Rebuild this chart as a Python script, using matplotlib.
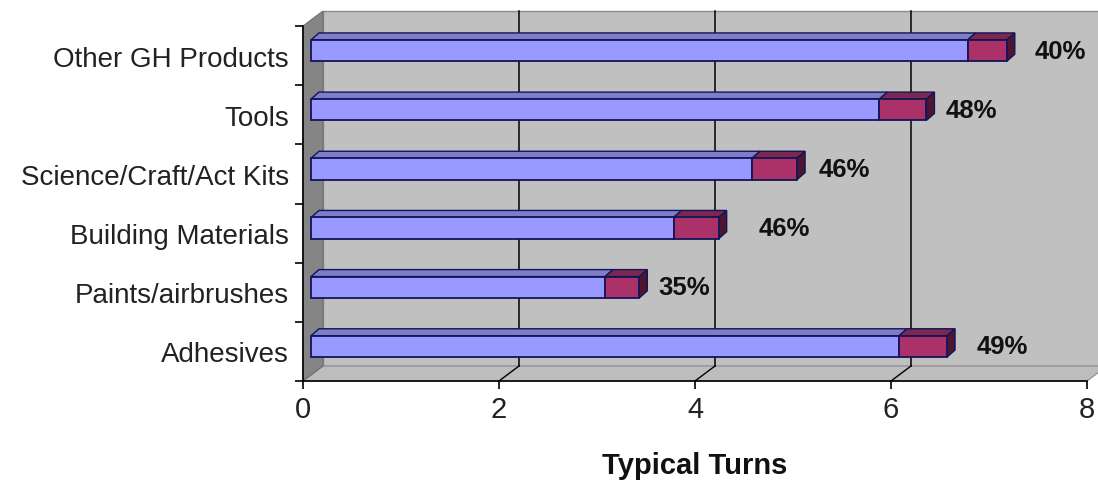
import matplotlib
matplotlib.use("Agg")
import matplotlib.pyplot as plt
from matplotlib.patches import Polygon, Rectangle

# ---- data -------------------------------------------------------------
categories = ["Adhesives", "Paints/airbrushes", "Building Materials",
              "Science/Craft/Act Kits", "Tools", "Other GH Products"]
base_turns = [6.0, 3.0, 3.7, 4.5, 5.8, 6.7]
pct_labels = ["49%", "35%", "46%", "46%", "48%", "40%"]
pct_values = [0.49, 0.35, 0.46, 0.46, 0.48, 0.40]
x_ticks = [0, 2, 4, 6, 8]
x_title = "Typical Turns"

# gap (pixels) between each bar end and its percentage label
label_gap_px = [30, 19, 40, 22, 19, 28]

# ---- style --------------------------------------------------------------
plt.rcParams["font.family"] = ["Liberation Sans", "DejaVu Sans"]
WALL = "#c0c0c0"
FLOOR = "#bdbdbd"
SIDE_WALL = "#858585"
BLUE_FRONT, BLUE_TOP = "#9999ff", "#7d7dc8"
RED_FRONT, RED_TOP, RED_SIDE = "#ab3169", "#7a2850", "#4c1631"
EDGE = "#14145a"

W, H = 1098, 485
fig = plt.figure(figsize=(W / 100, H / 100), dpi=100)
ax = fig.add_axes([303 / W, (H - 382) / H, 784 / W, 355 / H])
ax.set_xlim(0, 8)
ax.set_ylim(-0.5, len(categories) - 0.5)

ypos = list(range(len(categories)))
y0, y1 = -0.5, len(categories) - 0.5


def px(dx, dy):
    """Convert a pixel offset into data units for this axes."""
    inv = ax.transData.inverted()
    a = inv.transform((0, 0))
    b = inv.transform((dx, dy))
    return b[0] - a[0], b[1] - a[1]


wx, wy = px(20, 15)      # depth of the chart box
fx, fy = px(8, 5)        # front face of bars sits inside the box
bx, by = px(8, 7)        # thickness of each bar
bar_h = 0.36


def poly(pts, color, z, **kw):
    ax.add_patch(Polygon(pts, closed=True, facecolor=color, clip_on=False,
                         zorder=z, **kw))


# back wall, floor and left wall
ax.add_patch(Rectangle((wx, y0 + wy), 8, y1 - y0, facecolor=WALL,
                       edgecolor="#8a8a8a", lw=1.0, clip_on=False, zorder=0))
poly([(0, y0), (8, y0), (8 + wx, y0 + wy), (wx, y0 + wy)], FLOOR, 1,
     edgecolor="#8a8a8a", lw=0.8)
poly([(0, y0), (0, y1), (wx, y1 + wy), (wx, y0 + wy)], SIDE_WALL, 1,
     edgecolor="#707070", lw=0.8)

# gridlines on the back wall and across the floor
for t in x_ticks[1:-1]:
    ax.plot([t + wx, t + wx], [y0 + wy, y1 + wy], color="black", lw=1.1,
            zorder=2, clip_on=False)
    ax.plot([t, t + wx], [y0, y0 + wy], color="black", lw=1.0, zorder=2,
            clip_on=False)


def bar3d(x0, x1, yc, front, top, side=None):
    lo = yc - bar_h / 2 + fy
    hi = yc + bar_h / 2 + fy
    a, b = x0 + fx, x1 + fx
    poly([(a, hi), (b, hi), (b + bx, hi + by), (a + bx, hi + by)], top, 4,
         edgecolor=EDGE, lw=1.0)
    if side is not None:
        poly([(b, lo), (b, hi), (b + bx, hi + by), (b + bx, lo + by)], side, 4,
             edgecolor=EDGE, lw=1.0)
    ax.add_patch(Rectangle((a, lo), b - a, hi - lo, facecolor=front,
                           edgecolor=EDGE, lw=1.3, clip_on=False, zorder=5))


for y, base, pct, lab, gap in zip(ypos, base_turns, pct_values, pct_labels,
                                  label_gap_px):
    bar3d(0, base, y, BLUE_FRONT, BLUE_TOP)
    bar3d(base, base + pct, y, RED_FRONT, RED_TOP, RED_SIDE)
    ax.annotate(lab, xy=(base + pct + fx, y + fy), xytext=(gap, 0),
                textcoords="offset pixels", ha="left", va="center",
                fontsize=18.5, fontweight="bold", color="#111111", zorder=6)

# axes: only the front-left and front-bottom edges are drawn
for s in ("top", "right"):
    ax.spines[s].set_visible(False)
for s in ("left", "bottom"):
    ax.spines[s].set_linewidth(1.2)
    ax.spines[s].set_zorder(3)
ax.patch.set_visible(False)

ax.set_xticks(x_ticks)
ax.set_xticklabels([str(t) for t in x_ticks])
ax.tick_params(axis="x", direction="out", length=6, width=1.2, pad=4,
               labelsize=21, labelcolor="#222222")

ax.set_yticks([y - 0.5 for y in ypos] + [y1])
ax.set_yticklabels([])
ax.tick_params(axis="y", which="major", direction="out", length=6, width=1.2)
ax.set_yticks(ypos, minor=True)
ax.set_yticklabels(categories, minor=True)
ax.tick_params(axis="y", which="minor", length=0, pad=10, labelsize=20,
               labelcolor="#222222")

ax.set_xlabel(x_title, fontsize=21, fontweight="bold", labelpad=20,
              color="#111111")

fig.savefig("out.png", dpi=100, facecolor="white")
